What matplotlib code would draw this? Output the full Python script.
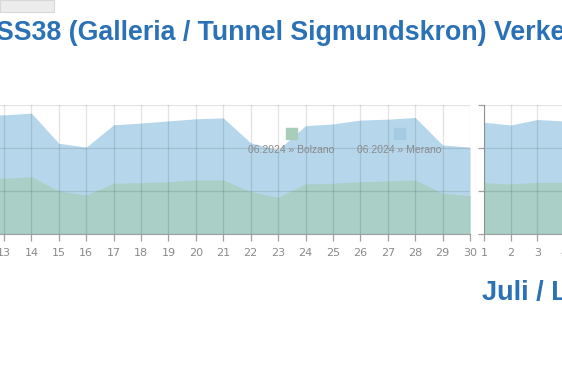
import matplotlib as mpl
mpl.use("Agg")
import matplotlib.pyplot as plt
from matplotlib.patches import Rectangle

# June 2024, days 12..30 (left part of the chart is cut off)
june_days = list(range(12, 31))
june_merano = [27700, 27700, 28100, 21100, 20200, 25400, 25800, 26300, 26800, 27000,
               21200, 19600, 25200, 25600, 26500, 26700, 27100, 20700, 20200]
june_bolzano = [12950, 12950, 13330, 10000, 9070, 11790, 11930, 12160, 12560, 12560,
                9840, 8530, 11630, 11790, 12160, 12330, 12560, 9470, 8910]

# July 2024, first days
july_days = [1, 2, 3, 4, 5]
july_merano = [25980, 25350, 26630, 26280, 26300]
july_bolzano = [11930, 11630, 12020, 12020, 12000]

y_ticks = [0, 10000, 20000, 30000]
series_names = ["06.2024 » Bolzano", "06.2024 » Merano"]

blue_fill = "#b6d7eb"
green_fill = "#a9cfc6"
title_blue = "#2a71b6"
label_grey = "#8a8a8a"

W, H = 562, 374
fig = plt.figure(figsize=(W / 100, H / 100), dpi=100)
fig.patch.set_facecolor("white")


def px(x0, y0, x1, y1):
    # pixel box (top-left origin) -> figure fraction rect
    return [x0 / W, 1 - y1 / H, (x1 - x0) / W, (y1 - y0) / H]


def style(ax, days, merano, bolzano, first, last):
    ax.fill_between(days, 0, merano, color=blue_fill, lw=0, zorder=1)
    ax.fill_between(days, 0, bolzano, color=green_fill, lw=0, zorder=2)
    ax.set_ylim(0, 30000)
    ax.set_yticks(y_ticks)
    ax.set_xticks(range(first, last + 1))
    ax.grid(True, color="black", alpha=0.11, lw=0.9, zorder=3)
    ax.set_axisbelow(False)
    for s in ["top", "right", "left"]:
        ax.spines[s].set_visible(False)
    ax.spines["bottom"].set_color("#a0a0a0")
    ax.spines["bottom"].set_zorder(4)
    ax.tick_params(axis="x", colors="#a0a0a0", length=5, width=0.9, pad=5,
                   labelsize=8, labelcolor=label_grey)
    ax.set_facecolor("none")


# June chart
ax1 = fig.add_axes(px(0, 105, 470, 234))
style(ax1, june_days, june_merano, june_bolzano, 13, 30)
ax1.set_xlim(13 - 4 / 27.41, 30)
ax1.tick_params(axis="y", length=0, labelleft=False)

# July chart
ax2 = fig.add_axes(px(484, 105, 484 + 30 * 26.7, 234))
style(ax2, july_days, july_merano, july_bolzano, 1, 31)
ax2.set_xlim(1, 31)
ax2.spines["left"].set_visible(True)
ax2.spines["left"].set_color("#a0a0a0")
ax2.tick_params(axis="y", colors="#a0a0a0", length=4, width=0.9, labelleft=False)

# legend inside June chart
for cx, name, col in [(291, series_names[0], "#a8cdbb"), (399, series_names[1], "#a4cbe3")]:
    fig.add_artist(Rectangle(((cx - 5.5) / W, 1 - 138.5 / H), 11 / W, 11 / H,
                             transform=fig.transFigure, color=col, zorder=5))
    fig.text(cx / W, 1 - 150 / H, name, ha="center", va="center",
             fontsize=7.5, color=label_grey, family="Liberation Sans", zorder=5)

# titles (page is cropped)
fig.text(-4 / W, 1 - 33 / H, "SS38 (Galleria / Tunnel Sigmundskron) Verkehr",
         ha="left", va="center", fontsize=19.3, fontweight="bold",
         color=title_blue, family="Liberation Sans")
fig.text(482 / W, 1 - 293 / H, "Juli / Luglio", ha="left", va="center",
         fontsize=19.5, fontweight="bold", color=title_blue, family="Liberation Sans")

# grey tab in the top-left corner
fig.add_artist(Rectangle((0, 1 - 12 / H), 54 / W, 12 / H, transform=fig.transFigure,
                         facecolor="#ececec", edgecolor="#d8d8d8", lw=0.8))

fig.savefig("out.png", dpi=100)
